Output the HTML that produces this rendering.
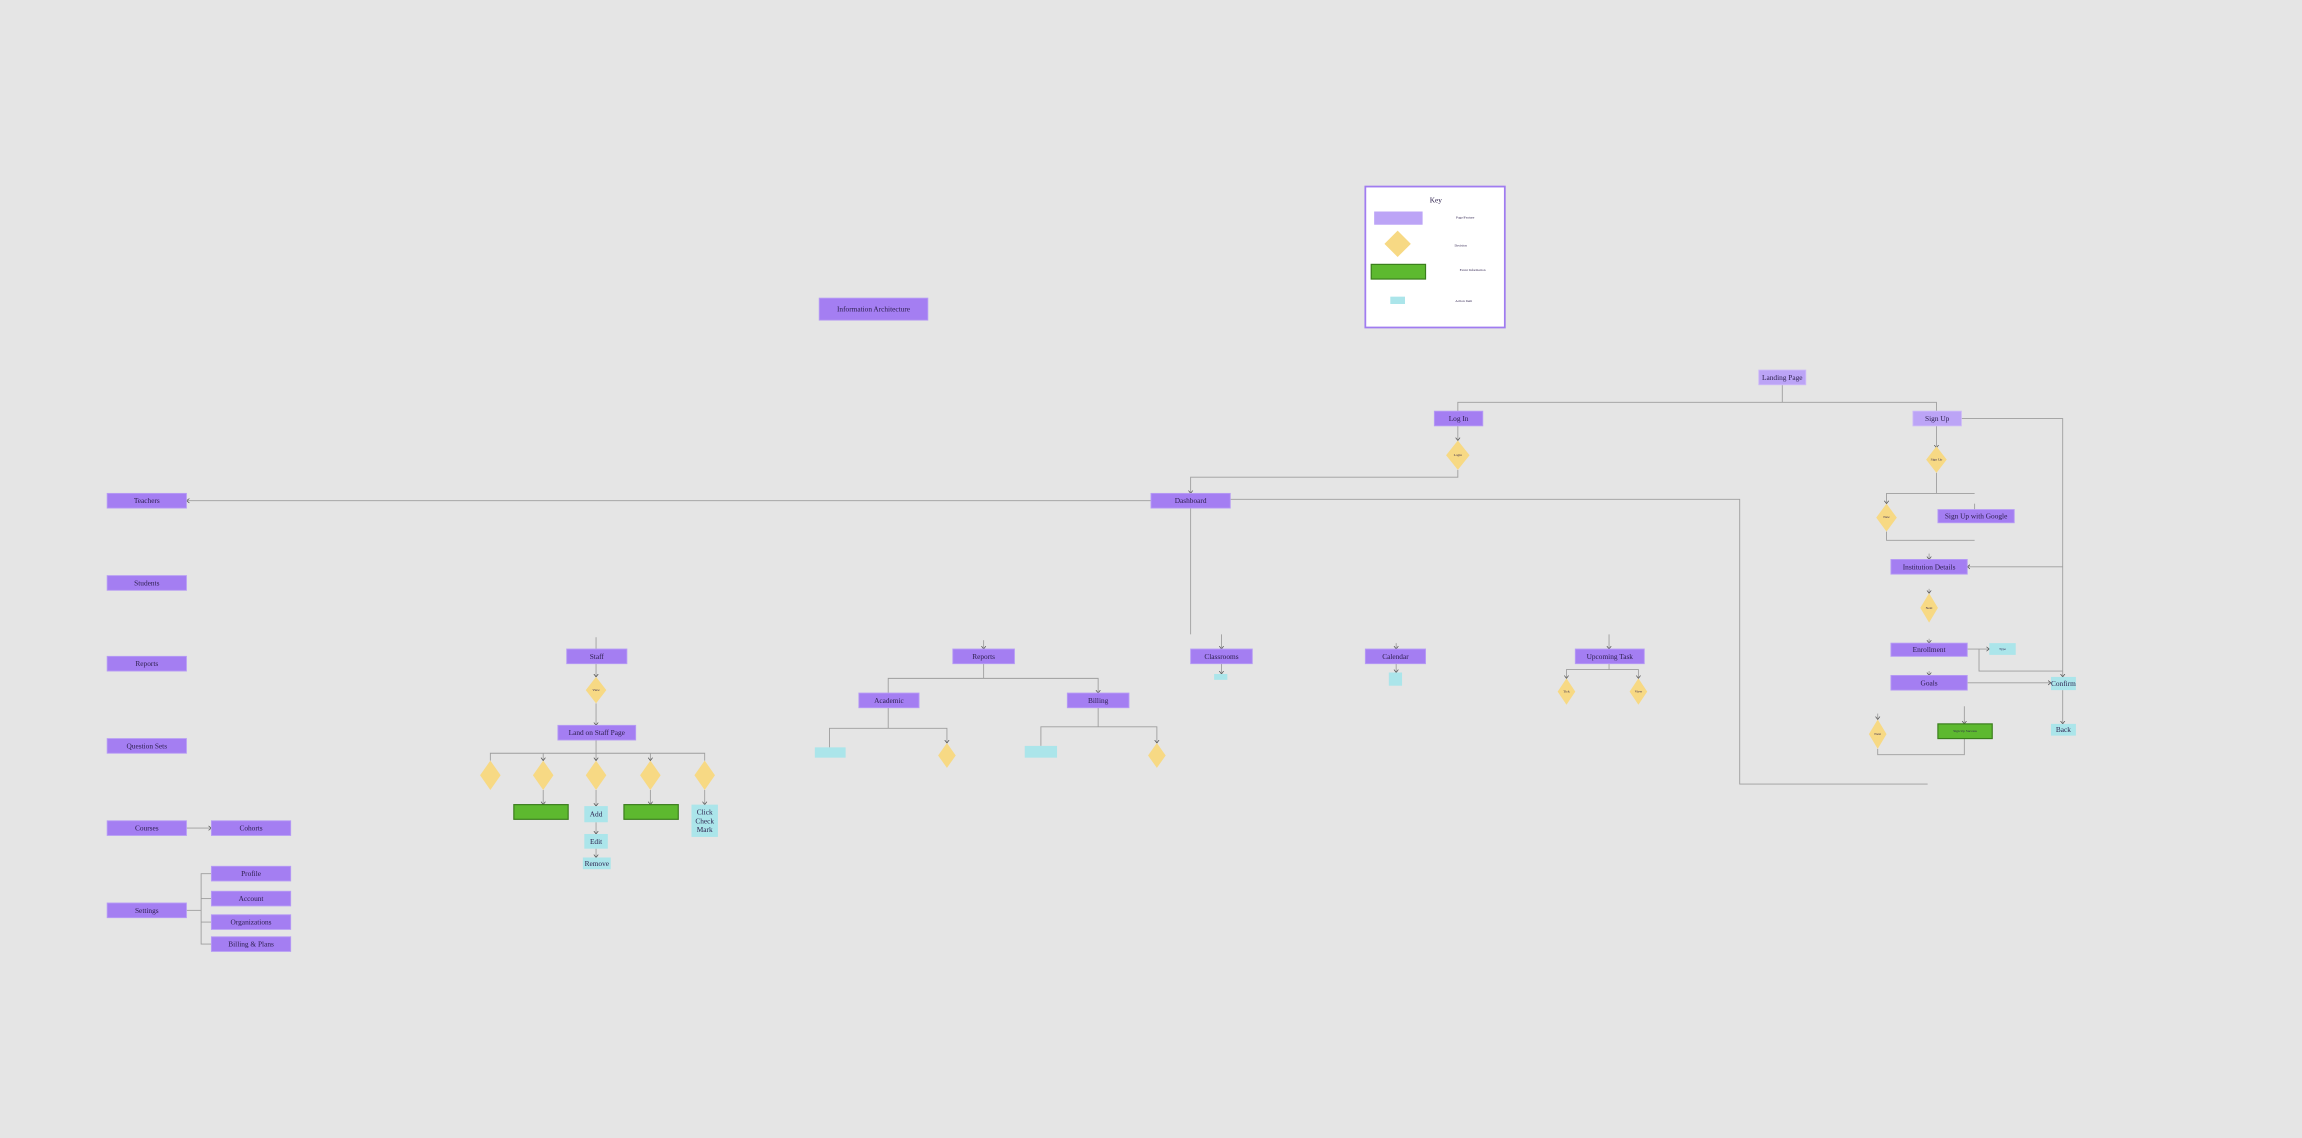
<!DOCTYPE html>
<html><head><meta charset="utf-8"><style>
html,body{margin:0;padding:0;background:#e5e5e5;}
svg{display:block}
text{font-family:"Liberation Serif",serif;fill:#2a1d4a;text-anchor:middle;dominant-baseline:central}
.p{fill:#a47ef2;stroke:#b79cf5;stroke-width:0.6}
.lp{fill:#bca4f6;stroke:#cdb9f8;stroke-width:0.6}
.d{fill:#f7d984}
.g{fill:#5db92f;stroke:#3a7d1c;stroke-width:0.8}
.c{fill:#abe5ea}
.l{fill:none;stroke:#9d9d9d;stroke-width:0.6}
.t{font-size:5px}
.s{font-size:2.4px}
</style></head><body>
<svg width="2302" height="1138" viewBox="0 0 1568 775" xmlns="http://www.w3.org/2000/svg">
<defs><marker id="a" markerWidth="4" markerHeight="4" refX="2" refY="2" orient="auto" markerUnits="userSpaceOnUse"><path d="M0,0.5 L2,2 L0,3.5" fill="none" stroke="#555" stroke-width="0.5"/></marker></defs>
<rect width="1568" height="775" fill="#e5e5e5"/>

<!-- Key -->
<rect x="930" y="127" width="95" height="96" fill="#fff" stroke="#a07cf0" stroke-width="1.2"/>
<text x="978" y="136" class="t">Key</text>
<rect x="936" y="144" width="33" height="9" fill="#bca4f6"/>
<polygon points="952,157 961,166 952,175 943,166" class="d"/>
<rect x="934" y="180" width="37" height="10" class="g"/>
<rect x="947" y="202" width="10" height="5" class="c"/>
<text x="998" y="148" class="s">Page/Feature</text>
<text x="995" y="167" class="s">Decision</text>
<text x="1003" y="184" class="s">Event Information</text>
<text x="997" y="205" class="s">Action Item</text>

<!-- Title -->
<rect x="558" y="203" width="74" height="15" class="p"/>
<text x="595" y="210.5" class="t">Information Architecture</text>

<!-- connectors -->
<polyline class="l" points="1214,262 1214,274"/>
<polyline class="l" points="993,280 993,274 1319,274 1319,280"/>
<polyline class="l" points="993,290 993,300" marker-end="url(#a)"/>
<polyline class="l" points="993,320 993,325 811,325 811,336" marker-end="url(#a)"/>
<polyline class="l" points="784,341 127,341" marker-end="url(#a)"/>
<polyline class="l" points="838,340 1185,340 1185,534 1313,534"/>
<polyline class="l" points="811,346 811,432"/>
<polyline class="l" points="1336,285 1405,285 1405,461" marker-end="url(#a)"/>
<polyline class="l" points="1319,290 1319,305" marker-end="url(#a)"/>
<polyline class="l" points="1319,322 1319,336"/>
<polyline class="l" points="1345,336 1285,336 1285,343" marker-end="url(#a)"/>
<polyline class="l" points="1345,347 1345,343"/>
<polyline class="l" points="1285,362 1285,368 1345,368"/>
<polyline class="l" points="1314,377 1314,381" marker-end="url(#a)"/>
<polyline class="l" points="1405,386 1340,386" marker-end="url(#a)"/>
<polyline class="l" points="1314,401 1314,404" marker-end="url(#a)"/>
<polyline class="l" points="1314,435 1314,438" marker-end="url(#a)"/>
<polyline class="l" points="1340,442 1355,442" marker-end="url(#a)"/>
<polyline class="l" points="1348,442 1348,457 1405,457"/>
<polyline class="l" points="1314,457 1314,460" marker-end="url(#a)"/>
<polyline class="l" points="1340,465 1397,465" marker-end="url(#a)"/>
<polyline class="l" points="1405,470 1405,493" marker-end="url(#a)"/>
<polyline class="l" points="1279,486 1279,490" marker-end="url(#a)"/>
<polyline class="l" points="1338,481 1338,493" marker-end="url(#a)"/>
<polyline class="l" points="1279,510 1279,514 1338,514 1338,503"/>

<polyline class="l" points="832,432 832,442" marker-end="url(#a)"/>
<polyline class="l" points="832,452 832,459" marker-end="url(#a)"/>
<polyline class="l" points="951,438 951,442" marker-end="url(#a)"/>
<polyline class="l" points="951,452 951,458" marker-end="url(#a)"/>
<polyline class="l" points="1096,432 1096,442" marker-end="url(#a)"/>
<polyline class="l" points="1096,452 1096,456 1067,456 1067,462" marker-end="url(#a)"/>
<polyline class="l" points="1096,456 1116,456 1116,462" marker-end="url(#a)"/>

<polyline class="l" points="670,436 670,442" marker-end="url(#a)"/>
<polyline class="l" points="670,452 670,462"/>
<polyline class="l" points="605,472 605,462 748,462 748,472" marker-end="url(#a)"/>
<polyline class="l" points="605,482 605,496"/>
<polyline class="l" points="565,509 565,496 645,496 645,506" marker-end="url(#a)"/>
<polyline class="l" points="748,482 748,495"/>
<polyline class="l" points="709,508 709,495 788,495 788,506" marker-end="url(#a)"/>

<polyline class="l" points="406,434 406,442"/>
<polyline class="l" points="406,452 406,461" marker-end="url(#a)"/>
<polyline class="l" points="406,479 406,494" marker-end="url(#a)"/>
<polyline class="l" points="406,504 406,513"/>
<polyline class="l" points="334,518 334,513 480,513 480,518"/>
<polyline class="l" points="370,513 370,518" marker-end="url(#a)"/>
<polyline class="l" points="406,513 406,518" marker-end="url(#a)"/>
<polyline class="l" points="443,513 443,518" marker-end="url(#a)"/>
<polyline class="l" points="370,538 370,548" marker-end="url(#a)"/>
<polyline class="l" points="406,538 406,549" marker-end="url(#a)"/>
<polyline class="l" points="443,538 443,548" marker-end="url(#a)"/>
<polyline class="l" points="480,538 480,548" marker-end="url(#a)"/>
<polyline class="l" points="406,560 406,568" marker-end="url(#a)"/>
<polyline class="l" points="406,578 406,584" marker-end="url(#a)"/>

<polyline class="l" points="127,564 144,564" marker-end="url(#a)"/>
<polyline class="l" points="127,620 137,620"/>
<polyline class="l" points="144,595 137,595 137,643 144,643"/>
<polyline class="l" points="137,612 144,612"/>
<polyline class="l" points="137,628 144,628"/>

<!-- nodes -->
<rect x="1198" y="252" width="32" height="10" class="lp"/><text x="1214" y="257" class="t">Landing Page</text>
<rect x="977" y="280" width="33" height="10" class="p"/><text x="993.5" y="285" class="t">Log In</text>
<rect x="1303" y="280" width="33" height="10" class="lp"/><text x="1319.5" y="285" class="t">Sign Up</text>
<polygon points="993,300 1001,310 993,320 985,310" class="d"/><text x="993" y="310" class="s">Login</text>
<polygon points="1319,304 1326,313 1319,322 1312,313" class="d"/><text x="1319" y="313" class="s">Sign Up</text>
<polygon points="1285,343 1292,352.5 1285,362 1278,352.5" class="d"/><text x="1285" y="352" class="s">New</text>
<rect x="1320" y="347" width="52" height="9" class="p"/><text x="1346" y="351.5" class="t">Sign Up with Google</text>
<rect x="1288" y="381" width="52" height="10" class="p"/><text x="1314" y="386" class="t">Institution Details</text>
<polygon points="1314,404 1320,414 1314,424 1308,414" class="d"/><text x="1314" y="414" class="s">Next</text>
<rect x="1288" y="438" width="52" height="9" class="p"/><text x="1314" y="442.5" class="t">Enrollment</text>
<rect x="1355" y="438" width="18" height="8" class="c"/><text x="1364" y="442" class="s">Type</text>
<rect x="1288" y="460" width="52" height="10" class="p"/><text x="1314" y="465" class="t">Goals</text>
<rect x="1397" y="461" width="17" height="9" class="c"/><text x="1405.5" y="465.5" class="t">Confirm</text>
<rect x="1397" y="493" width="17" height="8" class="c"/><text x="1405.5" y="497" class="t">Back</text>
<polygon points="1279,490 1285,500 1279,510 1273,500" class="d"/><text x="1279" y="500" class="s">Next</text>
<rect x="1320" y="493" width="37" height="10" class="g"/><text x="1338.5" y="498" class="s">Sign Up Success</text>

<rect x="784" y="336" width="54" height="10" class="p"/><text x="811" y="341" class="t">Dashboard</text>
<rect x="811" y="442" width="42" height="10" class="p"/><text x="832" y="447" class="t">Classrooms</text>
<rect x="827" y="459" width="9" height="4" class="c"/>
<rect x="930" y="442" width="41" height="10" class="p"/><text x="950.5" y="447" class="t">Calendar</text>
<rect x="946" y="458" width="9" height="9" class="c"/>
<rect x="1073" y="442" width="47" height="10" class="p"/><text x="1096.5" y="447" class="t">Upcoming Task</text>
<polygon points="1067,462 1073,471 1067,480 1061,471" class="d"/><text x="1067" y="471" class="s">Tick</text>
<polygon points="1116,462 1122,471 1116,480 1110,471" class="d"/><text x="1116" y="471" class="s">View</text>

<rect x="649" y="442" width="42" height="10" class="p"/><text x="670" y="447" class="t">Reports</text>
<rect x="585" y="472" width="41" height="10" class="p"/><text x="605.5" y="477" class="t">Academic</text>
<rect x="727" y="472" width="42" height="10" class="p"/><text x="748" y="477" class="t">Billing</text>
<rect x="555" y="509" width="21" height="7" class="c"/>
<polygon points="645,506 651,514.5 645,523 639,514.5" class="d"/>
<rect x="698" y="508" width="22" height="8" class="c"/>
<polygon points="788,506 794,514.5 788,523 782,514.5" class="d"/>

<rect x="386" y="442" width="41" height="10" class="p"/><text x="406.5" y="447" class="t">Staff</text>
<polygon points="406,461 413,470 406,479 399,470" class="d"/><text x="406" y="470" class="s">View</text>
<rect x="380" y="494" width="53" height="10" class="p"/><text x="406.5" y="499" class="t">Land on Staff Page</text>
<polygon points="334,518 341,528 334,538 327,528" class="d"/>
<polygon points="370,518 377,528 370,538 363,528" class="d"/>
<polygon points="406,518 413,528 406,538 399,528" class="d"/>
<polygon points="443,518 450,528 443,538 436,528" class="d"/>
<polygon points="480,518 487,528 480,538 473,528" class="d"/>
<rect x="350" y="548" width="37" height="10" class="g"/>
<rect x="398" y="549" width="16" height="11" class="c"/><text x="406" y="554.5" class="t">Add</text>
<rect x="425" y="548" width="37" height="10" class="g"/>
<rect x="471" y="548" width="18" height="22" class="c"/><text x="480" y="553" class="t">Click</text><text x="480" y="559" class="t">Check</text><text x="480" y="565" class="t">Mark</text>
<rect x="398" y="568" width="16" height="10" class="c"/><text x="406" y="573" class="t">Edit</text>
<rect x="397" y="584" width="19" height="8" class="c"/><text x="406.5" y="588" class="t">Remove</text>

<rect x="73" y="336" width="54" height="10" class="p"/><text x="100" y="341" class="t">Teachers</text>
<rect x="73" y="392" width="54" height="10" class="p"/><text x="100" y="397" class="t">Students</text>
<rect x="73" y="447" width="54" height="10" class="p"/><text x="100" y="452" class="t">Reports</text>
<rect x="73" y="503" width="54" height="10" class="p"/><text x="100" y="508" class="t">Question Sets</text>
<rect x="73" y="559" width="54" height="10" class="p"/><text x="100" y="564" class="t">Courses</text>
<rect x="144" y="559" width="54" height="10" class="p"/><text x="171" y="564" class="t">Cohorts</text>
<rect x="73" y="615" width="54" height="10" class="p"/><text x="100" y="620" class="t">Settings</text>
<rect x="144" y="590" width="54" height="10" class="p"/><text x="171" y="595" class="t">Profile</text>
<rect x="144" y="607" width="54" height="10" class="p"/><text x="171" y="612" class="t">Account</text>
<rect x="144" y="623" width="54" height="10" class="p"/><text x="171" y="628" class="t">Organizations</text>
<rect x="144" y="638" width="54" height="10" class="p"/><text x="171" y="643" class="t">Billing &amp; Plans</text>
</svg>
</body></html>
